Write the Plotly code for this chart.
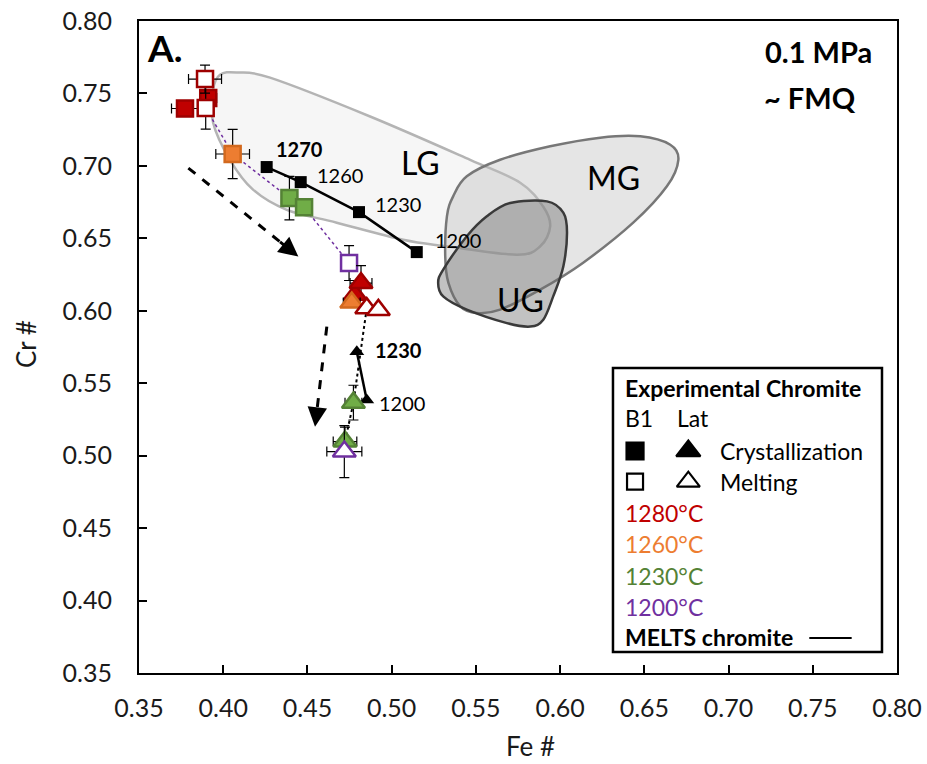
import plotly.graph_objects as go

# ---------------- data ----------------
# B1 experimental chromite (squares)
b1_red_fill_x = [0.3911, 0.3773]
b1_red_fill_y = [0.7468, 0.7396]
b1_red_fill_ex = [0.005, 0.008]
b1_red_fill_ey = [0.004, 0.004]

b1_red_open_x = [0.3892, 0.3896]
b1_red_open_y = [0.7599, 0.7399]
b1_red_open_ex = [0.0098, 0.004]
b1_red_open_ey = [0.0097, 0.0145]

b1_orange_x = [0.4056]
b1_orange_y = [0.7082]
b1_orange_ex = [0.010]
b1_orange_ey = [0.017]

b1_green_x = [0.4393, 0.4480]
b1_green_y = [0.6778, 0.6715]
b1_green_ex = [0.0, 0.0]
b1_green_ey = [0.015, 0.0]

b1_purple_open_x = [0.4747]
b1_purple_open_y = [0.6329]
b1_purple_open_ex = [0.0]
b1_purple_open_ey = [0.012]

# Lat experimental chromite (triangles)
lat_red_fill_x = [0.4783, 0.4818]
lat_red_fill_y = [0.6110, 0.6191]
lat_red_fill_ex = [0.0, 0.0065]
lat_red_fill_ey = [0.0, 0.012]

lat_orange_x = [0.4763]
lat_orange_y = [0.6057]
lat_orange_ex = [0.005]
lat_orange_ey = [0.0]

lat_red_open_x = [0.4852, 0.4921]
lat_red_open_y = [0.6018, 0.6006]
lat_red_open_ex = [0.0, 0.0]
lat_red_open_ey = [0.0, 0.0]

lat_green_x = [0.4773, 0.4723]
lat_green_y = [0.5366, 0.5097]
lat_green_ex = [0.005, 0.007]
lat_green_ey = [0.012, 0.010]

lat_purple_open_x = [0.4719]
lat_purple_open_y = [0.5028]
lat_purple_open_ex = [0.0104]
lat_purple_open_ey = [0.018]

# MELTS chromite
melts_b1_x = [0.4258, 0.4460, 0.4806, 0.5149]
melts_b1_y = [0.6992, 0.6888, 0.6681, 0.6405]
melts_b1_labels = ["1270", "1260", "1230", "1200"]
melts_b1_bold = [True, False, False, False]

melts_lat_x = [0.4793, 0.4852]
melts_lat_y = [0.5718, 0.5385]
melts_lat_labels = ["1230", "1200"]
melts_lat_bold = [True, False]

# Field outlines (Fe#, Cr#)
lg_x = [0.3981, 0.4080, 0.4278, 0.4872, 0.5466, 0.5763, 0.5900, 0.5941, 0.5882,
        0.5744, 0.5328, 0.5068, 0.4674, 0.4377, 0.4177, 0.4040, 0.3940, 0.3940]
lg_y = [0.7629, 0.7645, 0.7609, 0.7341, 0.7042, 0.6884, 0.6718, 0.6582, 0.6445,
        0.6387, 0.6445, 0.6490, 0.6608, 0.6697, 0.6836, 0.7042, 0.7298, 0.7526]

mg_x = [0.5328, 0.5318, 0.5337, 0.5407, 0.5506, 0.5644, 0.5882, 0.6137, 0.6434,
        0.6634, 0.6702, 0.6654, 0.6476, 0.6238, 0.5941, 0.5644, 0.5446, 0.5365]
mg_y = [0.6652, 0.6376, 0.6192, 0.6031, 0.5985, 0.6008, 0.6146, 0.6332, 0.6608,
        0.6859, 0.7042, 0.7146, 0.7204, 0.7195, 0.7135, 0.7042, 0.6928, 0.6790]

ug_x = [0.5704, 0.5922, 0.6019, 0.6041, 0.6019, 0.5959, 0.5900, 0.5823, 0.5684,
        0.5446, 0.5306, 0.5276, 0.5306, 0.5446, 0.5565]
ug_y = [0.6744, 0.6755, 0.6677, 0.6539, 0.6306, 0.6099, 0.5938, 0.5891, 0.5915,
        0.6008, 0.6099, 0.6192, 0.6284, 0.6514, 0.6652]

field_labels = ["LG", "MG", "UG"]
field_label_x = [0.5169, 0.6316, 0.5763]
field_label_y = [0.7022, 0.6919, 0.6077]

x_ticks = [0.35, 0.40, 0.45, 0.50, 0.55, 0.60, 0.65, 0.70, 0.75, 0.80]
y_ticks = [0.35, 0.40, 0.45, 0.50, 0.55, 0.60, 0.65, 0.70, 0.75, 0.80]

# ---------------- styles ----------------
RED, RED_D = "#c00000", "#9e0000"
ORANGE, ORANGE_D = "#ed7d31", "#d2691e"
GREEN, GREEN_D = "#70ad47", "#548235"
PURPLE = "#7030a0"
FONT = "Lato"
TXT = "#1a1a1a"

fig = go.Figure()


def smooth_path(xs, ys):
    n = len(xs)
    pts = list(zip(xs, ys))
    d = f"M{pts[0][0]},{pts[0][1]}"
    for i in range(n):
        p0 = pts[i - 1]
        p1 = pts[i]
        p2 = pts[(i + 1) % n]
        p3 = pts[(i + 2) % n]
        c1 = (p1[0] + (p2[0] - p0[0]) / 6, p1[1] + (p2[1] - p0[1]) / 6)
        c2 = (p2[0] - (p3[0] - p1[0]) / 6, p2[1] - (p3[1] - p1[1]) / 6)
        d += f" C{c1[0]},{c1[1]} {c2[0]},{c2[1]} {p2[0]},{p2[1]}"
    return d + " Z"


shapes = []
shapes.append(dict(type="path", xref="x", yref="y", path=smooth_path(lg_x, lg_y),
                   fillcolor="rgba(225,225,225,0.3)", line=dict(color="#b4b4b4", width=2.5),
                   layer="below"))
shapes.append(dict(type="path", xref="x", yref="y", path=smooth_path(mg_x, mg_y),
                   fillcolor="rgba(190,190,190,0.4)", line=dict(color="#777777", width=2.5),
                   layer="below"))
shapes.append(dict(type="path", xref="x", yref="y", path=smooth_path(ug_x, ug_y),
                   fillcolor="rgba(110,110,110,0.42)", line=dict(color="#3a3a3a", width=2.5),
                   layer="below"))

# dashed trend arrows
arrows = [((0.3793, 0.6985), (0.4446, 0.6374)), ((0.4615, 0.5891), (0.4545, 0.5200))]
annotations = []
for (x0, y0), (x1, y1) in arrows:
    shapes.append(dict(type="line", xref="x", yref="y", x0=x0, y0=y0,
                       x1=x0 + (x1 - x0) * 0.9, y1=y0 + (y1 - y0) * 0.9,
                       line=dict(color="black", width=3, dash="dash")))
    annotations.append(dict(x=x1, y=y1, ax=x0 + (x1 - x0) * 0.82, ay=y0 + (y1 - y0) * 0.82,
                            xref="x", yref="y", axref="x", ayref="y", showarrow=True,
                            arrowhead=2, arrowsize=1.3, arrowwidth=3, arrowcolor="black", text=""))

# legend box (drawn below traces so legend markers stay visible)
shapes.append(dict(type="rect", xref="paper", yref="paper", x0=0.6253, x1=0.9802, y0=0.0322, y1=0.4678,
                   line=dict(color="black", width=2.5), fillcolor="white", layer="below"))
shapes.append(dict(type="line", xref="paper", yref="paper", x0=0.8843, x1=0.9402, y0=0.0537, y1=0.0537,
                   line=dict(color="black", width=2), layer="above"))

# dotted connecting lines
b1_path_x = [b1_red_open_x[0], b1_red_open_x[1], b1_orange_x[0], b1_green_x[0], b1_green_x[1], b1_purple_open_x[0]]
b1_path_y = [b1_red_open_y[0], b1_red_open_y[1], b1_orange_y[0], b1_green_y[0], b1_green_y[1], b1_purple_open_y[0]]
fig.add_trace(go.Scatter(x=b1_path_x, y=b1_path_y, mode="lines",
                         line=dict(color=PURPLE, width=1.5, dash="dot"), hoverinfo="skip"))
lat_path_x = [lat_red_open_x[0], lat_green_x[0], lat_green_x[1], lat_purple_open_x[0]]
lat_path_y = [lat_red_open_y[0], lat_green_y[0], lat_green_y[1], lat_purple_open_y[0]]
fig.add_trace(go.Scatter(x=lat_path_x, y=lat_path_y, mode="lines",
                         line=dict(color="black", width=2, dash="dot"), hoverinfo="skip"))

# MELTS lines
fig.add_trace(go.Scatter(x=melts_b1_x, y=melts_b1_y, mode="lines+markers",
                         line=dict(color="black", width=2.5),
                         marker=dict(symbol="square", size=12, color="black")))
fig.add_trace(go.Scatter(x=melts_lat_x, y=melts_lat_y, mode="lines+markers",
                         line=dict(color="black", width=2.5),
                         marker=dict(symbol="triangle-up", size=13, color="black")))


def add_series(x, y, ex, ey, symbol, fill, edge, size):
    fig.add_trace(go.Scatter(
        x=x, y=y, mode="markers",
        marker=dict(symbol=symbol, size=size, color=fill, opacity=1,
                    line=dict(color=edge, width=2.5)),
        error_x=dict(type="data", array=ex, color="black", thickness=1.2, width=5),
        error_y=dict(type="data", array=ey, color="black", thickness=1.2, width=5)))


SQ, TR = 16, 20
add_series(b1_red_fill_x, b1_red_fill_y, b1_red_fill_ex, b1_red_fill_ey, "square", RED, RED_D, SQ)
add_series(b1_red_open_x, b1_red_open_y, b1_red_open_ex, b1_red_open_ey, "square", "white", RED_D, SQ)
add_series(b1_orange_x, b1_orange_y, b1_orange_ex, b1_orange_ey, "square", ORANGE, ORANGE_D, SQ)
add_series(b1_green_x, b1_green_y, b1_green_ex, b1_green_ey, "square", GREEN, GREEN_D, SQ)
add_series(b1_purple_open_x, b1_purple_open_y, b1_purple_open_ex, b1_purple_open_ey, "square", "white", PURPLE, SQ)
add_series(lat_red_fill_x, lat_red_fill_y, lat_red_fill_ex, lat_red_fill_ey, "triangle-up", RED, RED_D, TR)
add_series(lat_orange_x, lat_orange_y, lat_orange_ex, lat_orange_ey, "triangle-up", ORANGE, ORANGE_D, TR)
add_series(lat_red_open_x, lat_red_open_y, lat_red_open_ex, lat_red_open_ey, "triangle-up", "white", RED_D, TR)
add_series(lat_green_x, lat_green_y, lat_green_ex, lat_green_ey, "triangle-up", GREEN, GREEN_D, TR)
add_series(lat_purple_open_x, lat_purple_open_y, lat_purple_open_ex, lat_purple_open_ey, "triangle-up", "white", PURPLE, TR)

# MELTS labels
b1_offsets = [(33, 18), (39, 7), (39, 8), (41, 12)]
for x, y, t, b, (dx, dy) in zip(melts_b1_x, melts_b1_y, melts_b1_labels, melts_b1_bold, b1_offsets):
    annotations.append(dict(x=x, y=y, xref="x", yref="y", text=f"<b>{t}</b>" if b else t,
                            showarrow=False, xshift=dx, yshift=dy, xanchor="center", yanchor="middle",
                            font=dict(family=FONT, size=20, color="black")))
lat_offsets = [(42, 2), (35, -3)]
for x, y, t, b, (dx, dy) in zip(melts_lat_x, melts_lat_y, melts_lat_labels, melts_lat_bold, lat_offsets):
    annotations.append(dict(x=x, y=y, xref="x", yref="y", text=f"<b>{t}</b>" if b else t,
                            showarrow=False, xshift=dx, yshift=dy, xanchor="center", yanchor="middle",
                            font=dict(family=FONT, size=20, color="black")))

# field labels
for t, x, y in zip(field_labels, field_label_x, field_label_y):
    annotations.append(dict(x=x, y=y, xref="x", yref="y", text=t, showarrow=False,
                            xanchor="center", yanchor="middle",
                            font=dict(family=FONT, size=32, color="black")))

# panel texts
annotations.append(dict(x=0.033, y=0.9586, xref="paper", yref="paper", text="<b>A.</b>",
                        xanchor="center", yanchor="middle",
                        showarrow=False, font=dict(family=FONT, size=37, color="black")))
annotations.append(dict(x=0.8228, y=0.9525, xref="paper", yref="paper", text="<b>0.1 MPa</b>",
                        xanchor="left", yanchor="middle",
                        showarrow=False, font=dict(family=FONT, size=29, color="black")))
annotations.append(dict(x=0.8215, y=0.8834, xref="paper", yref="paper", text="<b>~ FMQ</b>",
                        xanchor="left", yanchor="middle",
                        showarrow=False, font=dict(family=FONT, size=29, color="black")))

# axis titles
annotations.append(dict(x=0.517, y=-0.112, xref="paper", yref="paper", text="Fe #",
                        xanchor="center", yanchor="middle", showarrow=False, borderpad=0,
                        font=dict(family=FONT, size=26, color=TXT)))
annotations.append(dict(x=-0.150, y=0.505, xref="paper", yref="paper", text="Cr #", textangle=-90,
                        xanchor="center", yanchor="middle", showarrow=False,
                        font=dict(family=FONT, size=26, color=TXT)))

# ---------------- custom legend ----------------
LX = 0.6389
leg_texts = [
    ("<b>Experimental Chromite</b>", LX, 0.4367, "black"),
    ("B1", LX, 0.3906, "black"),
    ("Lat", 0.7071, 0.3906, "black"),
    ("Crystallization", 0.7642, 0.3405, "black"),
    ("Melting", 0.7642, 0.2934, "black"),
    ("1280°C", LX, 0.2449, RED),
    ("1260°C", LX, 0.1974, ORANGE),
    ("1230°C", LX, 0.1492, GREEN_D),
    ("1200°C", LX, 0.1017, PURPLE),
    ("<b>MELTS chromite</b>", LX, 0.0557, "black"),
]
for t, x, y, c in leg_texts:
    annotations.append(dict(x=x, y=y, xref="paper", yref="paper", text=t, xanchor="left",
                            yanchor="middle", showarrow=False, font=dict(family=FONT, size=23, color=c)))

fig.add_trace(go.Scatter(x=[0.6544, 0.7247, 0.6544, 0.7247], y=[0.3405, 0.3405, 0.2934, 0.2934],
                         xaxis="x2", yaxis="y2", mode="markers",
                         marker=dict(symbol=["square", "triangle-up", "square-open", "triangle-up-open"],
                                     size=[17, 21, 16, 20], color="black", opacity=1,
                                     line=dict(color="black", width=2.2))))

fig.update_layout(
    width=927, height=764,
    margin=dict(l=139, r=30, t=21, b=91),
    paper_bgcolor="white", plot_bgcolor="white",
    showlegend=False,
    shapes=shapes, annotations=annotations,
    font=dict(family=FONT, color="black"),
    xaxis=dict(range=[0.35, 0.80], tickvals=x_ticks, ticktext=[f"{v:.2f}" for v in x_ticks],
               showgrid=False, zeroline=False, showline=True, linecolor="black", linewidth=2,
               mirror=True, ticks="inside", ticklen=8, tickwidth=2, tickcolor="black", automargin=False,
               tickfont=dict(family=FONT, size=25, color=TXT), ticklabelstandoff=12),
    yaxis=dict(range=[0.35, 0.80], tickvals=y_ticks, ticktext=[f"{v:.2f}" for v in y_ticks],
               showgrid=False, zeroline=False, showline=True, linecolor="black", linewidth=2,
               mirror=True, ticks="inside", ticklen=8, tickwidth=2, tickcolor="black", automargin=False,
               tickfont=dict(family=FONT, size=25, color=TXT), ticklabelstandoff=20),
    xaxis2=dict(range=[0, 1], overlaying="x", visible=False, fixedrange=True),
    yaxis2=dict(range=[0, 1], overlaying="y", visible=False, fixedrange=True),
)

fig.write_html("out.html")
